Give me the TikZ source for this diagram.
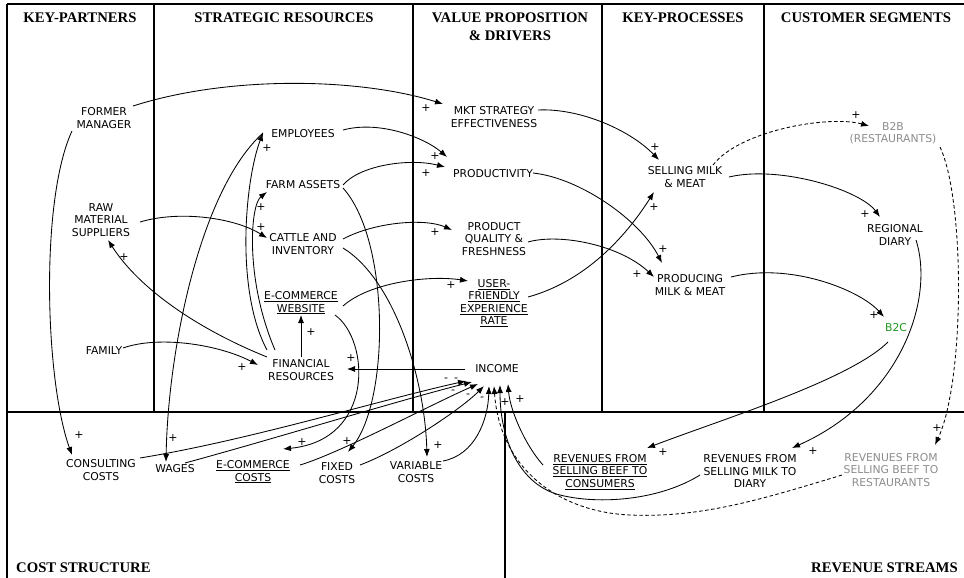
\documentclass[tikz,border=0pt]{standalone}
\usepackage{fontspec}
\setmainfont{DejaVu Sans}
\newfontfamily\hdfont{Liberation Serif}
\usetikzlibrary{calc,arrows.meta}
\definecolor{grtxt}{RGB}{140,140,140}
\definecolor{gntxt}{RGB}{30,150,30}
\begin{document}
\begin{tikzpicture}[x=1pt,y=-1pt,
 lbl/.style={font=\fontsize{10.8}{12.4}\selectfont, align=center, inner sep=1pt},
 hdr/.style={font=\hdfont\bfseries\fontsize{14.7}{18}\selectfont, inner sep=0pt, anchor=base, align=center},
 frame/.style={line width=2.2pt},
 lnk/.style={line width=0.85pt, -{Latex[length=8pt,width=6pt]}},
 sgn/.style={font=\fontsize{11}{11}\selectfont, inner sep=0pt},
 dsh/.style={dash pattern=on 3.5pt off 2.5pt},
]
\useasboundingbox (0,0) rectangle (964,578);
% frame
\draw[frame] (7,4) -- (964,4);
\draw[frame] (7,4) -- (7,578);
\draw[frame] (7,412) -- (964,412);
\draw[frame] (154,4) -- (154,412);
\draw[frame] (413,4) -- (413,412);
\draw[frame] (602,4) -- (602,412);
\draw[frame] (764,4) -- (764,412);
\draw[frame] (505,412) -- (505,578);
% headers
\node[hdr] (h1) at (80,23) {KEY-PARTNERS};
\node[hdr] (h2) at (284,23) {STRATEGIC RESOURCES};
\node[hdr] (h3) at (510,23) {VALUE PROPOSITION};
\node[hdr] (h3b) at (510,41) {\& DRIVERS};
\node[hdr] (h4) at (683,23) {KEY-PROCESSES};
\node[hdr] (h5) at (866,23) {CUSTOMER SEGMENTS};
\node[hdr,anchor=base west] (h6) at (16,572) {COST STRUCTURE};
\node[hdr,anchor=base east] (h7) at (958,572) {REVENUE STREAMS};
% nodes
\node[lbl] (fm) at (104,118) {FORMER\\MANAGER};
\node[lbl] (rms) at (101,220) {RAW\\MATERIAL\\SUPPLIERS};
\node[lbl] (fam) at (104,351) {FAMILY};
\node[lbl] (emp) at (303,134) {EMPLOYEES};
\node[lbl] (fa) at (303,185) {FARM ASSETS};
\node[lbl] (cat) at (303,244) {CATTLE AND\\INVENTORY};
\node[lbl] (ecw) at (301,303) {\underline{E-COMMERCE}\\\underline{WEBSITE}};
\node[lbl] (fr) at (301,370) {FINANCIAL\\RESOURCES};
\node[lbl] (mkt) at (494,117) {MKT STRATEGY\\EFFECTIVENESS};
\node[lbl] (prod) at (493,174) {PRODUCTIVITY};
\node[lbl] (pq) at (494,239) {PRODUCT\\QUALITY \&\\FRESHNESS};
\node[lbl] (uf) at (494,303) {\underline{USER-}\\\underline{FRIENDLY}\\\underline{EXPERIENCE}\\\underline{RATE}};
\node[lbl] (inc) at (497,369) {INCOME};
\node[lbl] (sel) at (685,177) {SELLING MILK\\\& MEAT};
\node[lbl] (prm) at (690,285) {PRODUCING\\MILK \& MEAT};
\node[lbl,text=grtxt] (b2b) at (893,133) {B2B\\(RESTAURANTS)};
\node[lbl] (reg) at (895,235) {REGIONAL\\DIARY};
\node[lbl,text=gntxt] (b2c) at (896,328) {B2C};
\node[lbl] (cons) at (101,470) {CONSULTING\\COSTS};
\node[lbl] (wag) at (175,469) {WAGES};
\node[lbl] (ecc) at (253,472) {\underline{E-COMMERCE}\\\underline{COSTS}};
\node[lbl] (fix) at (337,473) {FIXED\\COSTS};
\node[lbl] (var) at (416,472) {VARIABLE\\COSTS};
\node[lbl] (rbc) at (600,472) {\underline{REVENUES FROM}\\\underline{SELLING BEEF TO}\\\underline{CONSUMERS}};
\node[lbl] (rmd) at (750,471) {REVENUES FROM\\SELLING MILK TO\\DIARY};
\node[lbl,text=grtxt] (rbr) at (891,470) {REVENUES FROM\\SELLING BEEF TO\\RESTAURANTS};
% links
\draw[lnk] ($(fm)+(29,-12)$) .. controls (230,75) and (360,78) .. ($(mkt)+(-51,-13)$);
\draw[lnk] ($(fm)+(-32,13)$) .. controls (40,200) and (45,380) .. ($(cons)+(-29,-15)$);
\draw[lnk] ($(emp)+(40,-4)$) .. controls (380,120) and (425,138) .. ($(prod)+(-46,-17)$);
\draw[lnk] ($(fa)+(40,0)$) .. controls (360,165) and (410,158) .. ($(prod)+(-48,-7)$);
\draw[lnk] ($(fa)+(40,3)$) .. controls (390,240) and (390,400) .. ($(fix)+(11,-21)$);
\draw[lnk] ($(fr)+(-34,-20)$) .. controls (235,290) and (245,180) .. ($(emp)+(-40,-1)$);
\draw[lnk] ($(fr)+(-26,-20)$) .. controls (245,280) and (250,205) .. ($(fa)+(-36,7)$);
\draw[lnk] ($(emp)+(-40,-1)$) .. controls (200,190) and (168,350) .. ($(wag)+(-9,-7)$);
\draw[lnk] ($(fr)+(-34,-13)$) .. controls (200,330) and (140,290) .. ($(rms)+(7,20)$);
\draw[lnk] ($(fam)+(19,-3)$) .. controls (160,335) and (220,345) .. ($(fr)+(-43,-5)$);
\draw[lnk] ($(rms)+(39,2)$) .. controls (180,210) and (235,218) .. ($(cat)+(-36,-6)$);
\draw[lnk] ($(fr)+(0,-13)$) -- ($(ecw)+(0,12)$);
\draw[lnk] ($(inc)+(-32,0)$) -- ($(fr)+(46,-1)$);
\draw[lnk] ($(cat)+(40,-5)$) .. controls (375,222) and (425,218) .. ($(pq)+(-42,-9)$);
\draw[lnk] ($(cat)+(40,4)$) .. controls (395,280) and (425,380) .. ($(var)+(11,-15)$);
\draw[lnk] ($(ecw)+(42,3)$) .. controls (370,282) and (430,275) .. ($(uf)+(-26,-22)$);
\draw[lnk] ($(ecw)+(34,12)$) .. controls (370,340) and (375,440) .. ($(ecc)+(30,-23)$);
\draw[lnk] ($(mkt)+(44,-7)$) .. controls (580,108) and (630,130) .. ($(sel)+(-26,-17)$);
\draw[lnk] ($(prod)+(40,-1)$) .. controls (580,178) and (640,220) .. ($(prm)+(-28,-22)$);
\draw[lnk] ($(pq)+(34,3)$) .. controls (560,233) and (620,245) .. ($(prm)+(-36,-8)$);
\draw[lnk] ($(uf)+(34,-6)$) .. controls (590,280) and (630,230) .. ($(sel)+(-31,15)$);
\draw[lnk,dsh] ($(sel)+(28,-12)$) .. controls (740,130) and (830,115) .. ($(b2b)+(-24,-7)$);
\draw[lnk] ($(sel)+(44,0)$) .. controls (780,165) and (860,190) .. ($(reg)+(-15,-18)$);
\draw[lnk] ($(prm)+(41,-8)$) .. controls (790,262) and (860,290) .. ($(b2c)+(-12,-11)$);
\draw[lnk,dsh] ($(b2b)+(47,14)$) .. controls (965,200) and (965,380) .. ($(rbr)+(44,-25)$);
\draw[lnk] ($(reg)+(21,5)$) .. controls (935,300) and (900,400) .. ($(rmd)+(42,-23)$);
\draw[lnk] ($(b2c)+(-8,14)$) .. controls (850,380) and (720,420) .. ($(rbc)+(47,-24)$);
\draw[lnk] ($(cons)+(39,-12)$) .. controls (250,440) and (380,400) .. ($(inc)+(-31,12)$);
\draw[lnk] ($(wag)+(10,-6)$) .. controls (270,440) and (400,400) .. ($(inc)+(-25,13)$);
\draw[lnk] ($(ecc)+(47,-7)$) .. controls (340,453) and (430,405) .. ($(inc)+(-19,15)$);
\draw[lnk] ($(fix)+(23,-8)$) .. controls (400,450) and (460,410) .. ($(inc)+(-13,17)$);
\draw[lnk] ($(var)+(27,-11)$) .. controls (475,455) and (488,420) .. ($(inc)+(-8,17)$);
\draw[lnk] ($(rbc)+(-57,-7)$) .. controls (525,445) and (510,410) .. ($(inc)+(11,15)$);
\draw[lnk] ($(rmd)+(-50,4)$) .. controls (660,500) and (600,505) .. (560,495) .. controls (520,485) and (500,440) .. ($(inc)+(3,16)$);
\draw[lnk,dsh] ($(rbr)+(-49,5)$) .. controls (760,500) and (700,518) .. (630,515) .. controls (560,512) and (500,470) .. ($(inc)+(-3,17)$);
% signs
\foreach \p in {(426,108),(79,435),(435,156),(426,173),(347,441),(267,148),(261,207),(173,438),(124,257),(242,367),(261,227),(311,332),(351,358),(435,232),(438,445),(451,285),(302,442),(655,147),(663,249),(637,274),(654,207),(856,115),(865,214),(874,315),(937,428),(813,451),(663,452),(520,399),(505,402)}
  \node[sgn] at \p {+};
\foreach \p in {(446,380),(456,380),(453,392),(468,396),(482,399)}
  \node[sgn] at \p {-};
\end{tikzpicture}
\end{document}
